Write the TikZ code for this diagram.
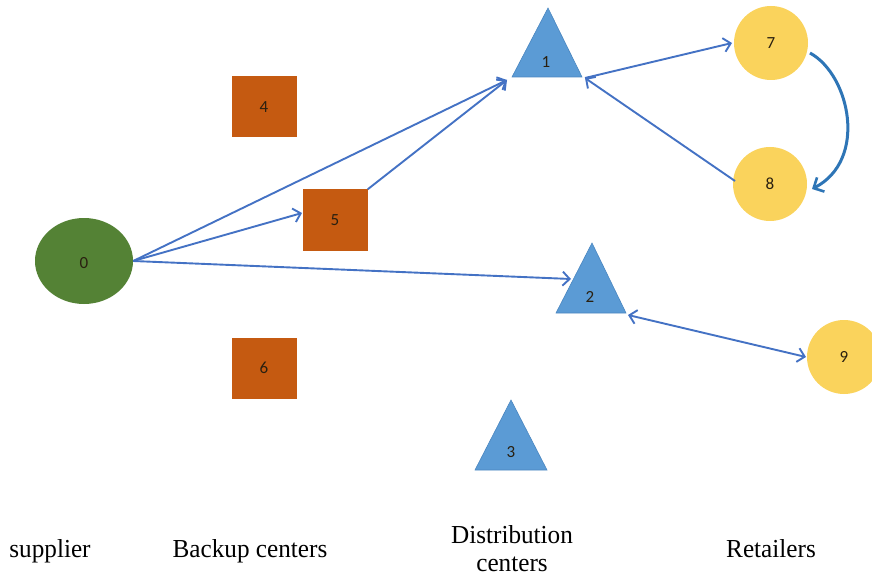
\documentclass[tikz,border=0pt]{standalone}
\usepackage{fontspec}
\setmainfont{Liberation Serif}
\newfontfamily\numfont{Carlito}
\usetikzlibrary{shapes.geometric,arrows.meta}
\definecolor{supgreen}{HTML}{548235}
\definecolor{bkorange}{HTML}{C55A11}
\definecolor{dcblue}{HTML}{5B9BD5}
\definecolor{dcedge}{HTML}{4A86C0}
\definecolor{rtyellow}{HTML}{FAD35C}
\definecolor{arrowblue}{HTML}{4472C4}
\definecolor{curveblue}{HTML}{2E75B6}
\definecolor{numtext}{HTML}{2A2010}
\tikzset{
  numlabel/.style={font=\numfont\fontsize{17}{17}\selectfont, text=numtext, inner sep=0pt},
  supplier/.style={ellipse, fill=supgreen, minimum width=98pt, minimum height=86pt, inner sep=0pt},
  backup/.style={rectangle, fill=bkorange, minimum width=65pt, minimum height=61pt, inner sep=0pt},
  retailer/.style={circle, fill=rtyellow, minimum size=74pt, inner sep=0pt},
  dctri/.style={fill=dcblue, draw=dcedge, line width=0.6pt},
  flow/.style={draw=arrowblue, line width=1.9pt, -{Straight Barb[length=7pt,width=14pt,line width=1.9pt]}},
  biflow/.style={draw=arrowblue, line width=1.9pt, {Straight Barb[length=7pt,width=14pt,line width=1.9pt]}-{Straight Barb[length=7pt,width=14pt,line width=1.9pt]}},
  loopflow/.style={draw=curveblue, line width=3pt, -{Straight Barb[length=8pt,width=16pt,line width=2.6pt]}},
  caption/.style={font=\fontsize{24}{26}\selectfont, align=center, inner sep=0pt, yscale=1.08, xscale=1.05}
}
\begin{document}
\begin{tikzpicture}[x=1pt,y=-1pt]
\useasboundingbox (0,0) rectangle (872,580);
\begin{scope}
\clip (0,0) rectangle (872,580);
% supplier
\node[supplier] (n0) at (84,261) {};
\node[numlabel] (l0) at (84,263) {0};
% backup centers
\node[backup] (n4) at (264,107) {};
\node[numlabel] (l4) at (264,107) {4};
\node[backup] (n5) at (335,220) {};
\node[numlabel] (l5) at (335,220) {5};
\node[backup] (n6) at (264,368) {};
\node[numlabel] (l6) at (264,368) {6};
% distribution centers (triangles)
\coordinate (d1a) at (548,8);  \coordinate (d1l) at (512,77);  \coordinate (d1r) at (582,77);
\coordinate (d2a) at (592,243); \coordinate (d2l) at (556,313); \coordinate (d2r) at (626,313);
\coordinate (d3a) at (511,400); \coordinate (d3l) at (475,470); \coordinate (d3r) at (547,470);
\fill[dctri] (d1l) -- (d1a) -- (d1r) -- cycle;
\fill[dctri] (d2l) -- (d2a) -- (d2r) -- cycle;
\fill[dctri] (d3l) -- (d3a) -- (d3r) -- cycle;
\node[numlabel] (n1) at (546,62) {1};
\node[numlabel] (n2) at (590,297) {2};
\node[numlabel] (n3) at (511,452) {3};
% retailers
\node[retailer] (n7) at (771,43) {};
\node[numlabel] (l7) at (771,43) {7};
\node[retailer] (n8) at (770,184) {};
\node[numlabel] (l8) at (770,184) {8};
\node[retailer] (n9) at (844,357) {};
\node[numlabel] (l9) at (844,357) {9};
% connector end points
\coordinate (t1in) at (507,80);
\coordinate (t1out) at (585,78);
\coordinate (t2in) at (571,279);
\coordinate (t2out) at (628,315);
\coordinate (r7in) at (732,43);
\coordinate (r7out) at (810,53);
\coordinate (r8in) at (812,189);
\coordinate (r8out) at (735,181);
\coordinate (r9in) at (806,357);
\coordinate (b5in) at (302,213);
% connectors
\draw[flow] (n0.east) -- (t1in);
\draw[flow] (n0.east) -- (b5in);
\draw[flow] (n0.east) -- (t2in);
\draw[flow] (n5.north east) -- (t1in);
\draw[flow] (t1out) -- (r7in);
\draw[flow] (r8out) -- (t1out);
\draw[biflow] (t2out) -- (r9in);
\draw[loopflow] (r7out) .. controls (850,75) and (868,160) .. (r8in);
\end{scope}
% captions
\node[caption] (c0) at (50,551) {supplier};
\node[caption] (c1) at (250,551) {Backup centers};
\node[caption] (c2) at (512,549) {Distribution\\centers};
\node[caption] (c3) at (771,549) {Retailers};
\end{tikzpicture}
\end{document}
